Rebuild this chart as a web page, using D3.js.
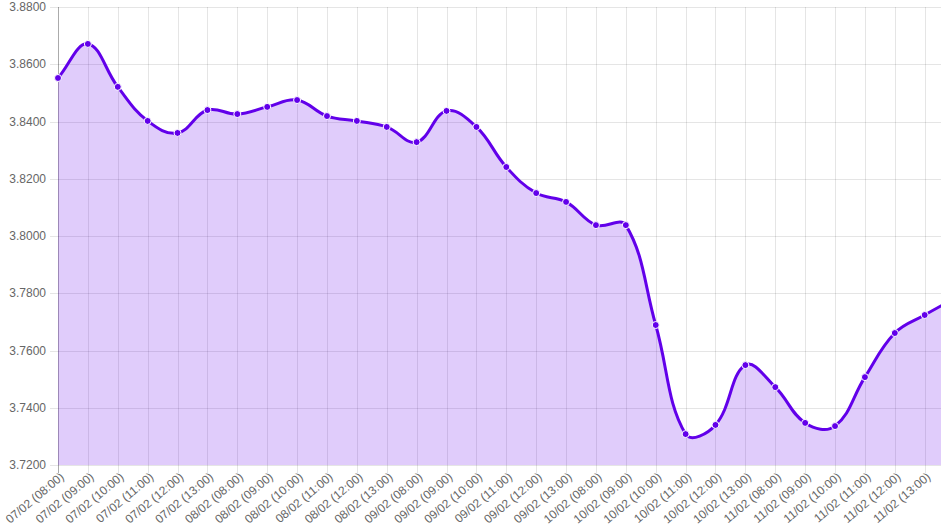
<!DOCTYPE html>
<html>
<head>
<meta charset="utf-8">
<script src="https://cdn.jsdelivr.net/npm/d3@7"></script>
<style>
  html, body { margin: 0; padding: 0; background: #fff; }
  svg { display: block; font-family: "Helvetica Neue", Helvetica, Arial, "Liberation Sans", sans-serif; }
</style>
</head>
<body>
<div class="graph"><svg></svg></div>
<script>
const days = ['07/02', '08/02', '09/02', '10/02', '11/02']
const hours = ['08:00', '09:00', '10:00', '11:00', '12:00', '13:00']
const labels = days.flatMap((d) => hours.map((h) => d + ' (' + h + ')'))

// rate per slot, the last one sits just past the right edge
const rates = [
  3.8552, 3.8671, 3.8521, 3.8402, 3.8360, 3.8440,
  3.8426, 3.8451, 3.8475, 3.8419, 3.8402, 3.8381,
  3.8328, 3.8437, 3.8381, 3.8241, 3.8150, 3.8119,
  3.8038, 3.8038, 3.7689, 3.7308, 3.7340, 3.7549,
  3.7472, 3.7347, 3.7336, 3.7507, 3.7661, 3.7724,
  3.7782
]
const yTicks = [3.72, 3.74, 3.76, 3.78, 3.80, 3.82, 3.84, 3.86, 3.88]

const chartWidth = 941
const chartHeight = 526
const plotLeft = 58
const plotTop = 7
const plotBottom = 465

const svg = d3.select('svg')
  .attr('width', chartWidth)
  .attr('height', chartHeight)

const x = d3.scaleLinear()
  .domain([0, labels.length - 1])
  .range([plotLeft, 924.7])

const y = d3.scaleLinear()
  .domain([3.72, 3.88])
  .range([plotBottom, plotTop])

/**
 * Chart.js style spline control points (tension 0.4).
 *
 * @param {Array} pts The points in pixels
 * @param {number} t The tension
 * @returns {Array} The control points for each point
 */
function controlPoints (pts, t) {
  return pts.map((cur, i) => {
    const prev = pts[i - 1] || cur
    const next = pts[i + 1] || cur
    const d01 = Math.hypot(cur[0] - prev[0], cur[1] - prev[1])
    const d12 = Math.hypot(next[0] - cur[0], next[1] - cur[1])
    let s01 = d01 / (d01 + d12)
    let s12 = d12 / (d01 + d12)
    if (isNaN(s01)) s01 = 0
    if (isNaN(s12)) s12 = 0
    const fa = t * s01
    const fb = t * s12
    return {
      prev: [cur[0] - fa * (next[0] - prev[0]), cur[1] - fa * (next[1] - prev[1])],
      next: [cur[0] + fb * (next[0] - prev[0]), cur[1] + fb * (next[1] - prev[1])]
    }
  })
}

const pts = rates.map((v, i) => [x(i), y(v)])
const cps = controlPoints(pts, 0.4)

function linePath (p) {
  p.moveTo(pts[0][0], pts[0][1])
  for (let i = 1; i < pts.length; i++) {
    const a = cps[i - 1].next
    const b = cps[i].prev
    p.bezierCurveTo(a[0], a[1], b[0], b[1], pts[i][0], pts[i][1])
  }
  return p
}

// grid
const grid = svg.append('g').attr('stroke', 'rgba(0,0,0,0.1)').attr('stroke-width', 1)
grid.selectAll('.hgrid')
  .data(yTicks)
  .join('line')
  .attr('x1', plotLeft - 8)
  .attr('x2', chartWidth)
  .attr('y1', (d) => Math.round(y(d)) + 0.5)
  .attr('y2', (d) => Math.round(y(d)) + 0.5)
grid.selectAll('.vgrid')
  .data(labels)
  .join('line')
  .attr('x1', (d, i) => Math.round(x(i)) + 0.5)
  .attr('x2', (d, i) => Math.round(x(i)) + 0.5)
  .attr('y1', plotTop)
  .attr('y2', plotBottom + 8)

svg.append('line')
  .attr('x1', plotLeft + 0.5).attr('x2', plotLeft + 0.5)
  .attr('y1', plotTop).attr('y2', plotBottom + 8)
  .attr('stroke', 'rgba(0,0,0,0.25)')

// area
const ap = d3.path()
linePath(ap)
ap.lineTo(pts[pts.length - 1][0], plotBottom)
ap.lineTo(pts[0][0], plotBottom)
ap.closePath()
svg.append('path')
  .attr('d', ap.toString())
  .attr('fill', 'rgba(98,0,234,0.2)')

const lp = d3.path()
linePath(lp)
svg.append('path')
  .attr('d', lp.toString())
  .attr('fill', 'none')
  .attr('stroke', '#6200ea')
  .attr('stroke-width', 3)

svg.selectAll('.marker')
  .data(rates)
  .join('circle')
  .attr('class', 'marker')
  .attr('cx', (d, i) => x(i))
  .attr('cy', (d) => y(d))
  .attr('r', 3.5)
  .attr('fill', '#6200ea')
  .attr('stroke', '#fff')
  .attr('stroke-width', 1)

// y labels
svg.append('g')
  .selectAll('text')
  .data(yTicks)
  .join('text')
  .attr('x', plotLeft - 12)
  .attr('y', (d) => y(d))
  .attr('dy', '0.35em')
  .attr('text-anchor', 'end')
  .attr('fill', '#666')
  .attr('font-size', 12)
  .text(d3.format('.4f'))

// x labels
svg.append('g')
  .selectAll('text')
  .data(labels)
  .join('text')
  .attr('transform', (d, i) => 'translate(' + (x(i) + 4) + ',' + (plotBottom + 10) + ') rotate(-40)')
  .attr('text-anchor', 'end')
  .attr('dy', '0.35em')
  .attr('fill', '#666')
  .attr('font-size', 12)
  .text((d) => d)
</script>
</body>
</html>
